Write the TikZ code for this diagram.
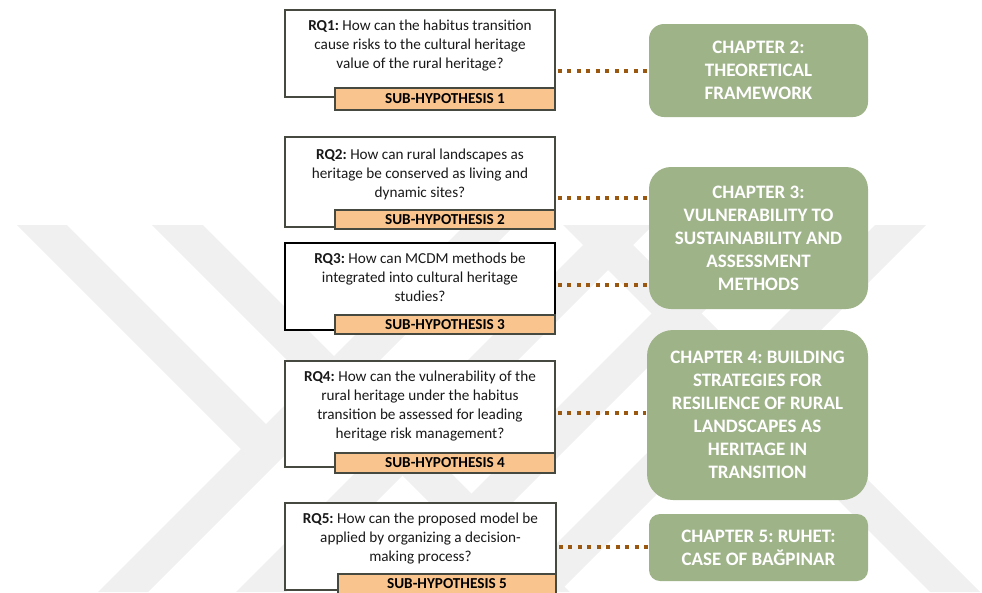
\documentclass[tikz,border=0pt]{standalone}
\usepackage{fontspec}
\setmainfont{Carlito}
\frenchspacing
\definecolor{wm}{RGB}{240,240,240}
\definecolor{rqgray}{RGB}{69,73,63}
\definecolor{shfill}{RGB}{249,196,142}
\definecolor{chgreen}{RGB}{159,179,137}
\definecolor{dotbrown}{RGB}{154,87,16}
\begin{document}
\begin{tikzpicture}[x=1pt,y=-1pt,
  rqbox/.style={draw=rqgray, line width=1.8pt, fill=white, inner sep=0pt, minimum width=270pt},
  shbox/.style={draw=rqgray, line width=1.8pt, fill=shfill, inner sep=0pt, minimum width=220pt,
    font=\fontsize{15.2}{17}\selectfont\bfseries},
  rqtext/.style={align=center, inner sep=0pt, text=black!90, font=\fontsize{15.2}{19}\selectfont},
  chbox/.style={fill=chgreen, inner sep=0pt, minimum width=219pt, text=white, align=center,
    font=\fontsize{19}{23}\selectfont\bfseries},
  dotline/.style={draw=dotbrown, line width=4pt, dash pattern=on 4pt off 5.5pt, shorten <=2pt, shorten >=1pt}
]
\useasboundingbox (0,0) rectangle (982,592);
\clip (0,0) rectangle (982,592);

% faint background emblem made of diagonal stripes
\begin{scope}[fill=wm]
  \fill (17,225) -- (67,225) -- (291,449) -- (241,449) -- cycle;
  \fill (465,225) -- (515,225) -- (148,592) -- (98,592) -- cycle;
  \fill (152,225) -- (203,225) -- (570,592) -- (519,592) -- cycle;
  \fill (603,225) -- (653,225) -- (286,592) -- (236,592) -- cycle;
  \fill (740,225) -- (790,225) -- (423,592) -- (373,592) -- cycle;
  \fill (875,225) -- (926,225) -- (559,592) -- (508,592) -- cycle;
  \fill (563,225) -- (613,225) -- (980,592) -- (930,592) -- cycle;
\end{scope}

% research questions with their sub-hypotheses
\node[rqbox, minimum height=87pt] (rq1) at (420,53.5) {};
\node[shbox, minimum height=22pt] (sh1) at (445,99) {SUB-HYPOTHESIS 1};
\node[rqtext] (rq1t) at (420,45.5) {\textbf{RQ1:} How can the habitus transition\\cause risks to the cultural heritage\\value of the rural heritage?};

\node[rqbox, minimum height=90pt] (rq2) at (420,182) {};
\node[shbox, minimum height=19pt] (sh2) at (445,219.5) {SUB-HYPOTHESIS 2};
\node[rqtext] (rq2t) at (420,174.5) {\textbf{RQ2:} How can rural landscapes as\\heritage be conserved as living and\\dynamic sites?};

\node[rqbox, draw=black, minimum height=87pt] (rq3) at (420,286.5) {};
\node[shbox, minimum height=19pt] (sh3) at (445,324.5) {SUB-HYPOTHESIS 3};
\node[rqtext] (rq3t) at (420,277.5) {\textbf{RQ3:} How can MCDM methods be\\integrated into cultural heritage\\studies?};

\node[rqbox, minimum height=106pt] (rq4) at (420,414) {};
\node[shbox, minimum height=20pt] (sh4) at (445,463) {SUB-HYPOTHESIS 4};
\node[rqtext] (rq4t) at (420,406) {\textbf{RQ4:} How can the vulnerability of the\\rural heritage under the habitus\\transition be assessed for leading\\heritage risk management?};

\node[rqbox, minimum width=271pt, minimum height=87pt] (rq5) at (420.5,546.5) {};
\node[shbox, minimum width=218pt, minimum height=26pt] (sh5) at (447,587) {};
\node[font=\fontsize{15.2}{17}\selectfont\bfseries, inner sep=0pt] (sh5t) at (447,583.5) {SUB-HYPOTHESIS 5};
\node[rqtext] (rq5t) at (420.5,538.5) {\textbf{RQ5:} How can the proposed model be\\applied by organizing a decision-\\making process?};

% chapters
\node[chbox, minimum height=93pt, rounded corners=15pt] (ch2) at (758.5,70.5) {CHAPTER 2:\\THEORETICAL\\FRAMEWORK};
\node[chbox, minimum height=142pt, rounded corners=22pt] (ch3) at (758.5,238) {CHAPTER 3:\\VULNERABILITY TO\\SUSTAINABILITY AND\\ASSESSMENT\\METHODS};
\node[chbox, minimum width=221pt, minimum height=170pt, rounded corners=26pt] (ch4) at (757.5,415) {CHAPTER 4: BUILDING\\STRATEGIES FOR\\RESILIENCE OF RURAL\\LANDSCAPES AS\\HERITAGE IN\\TRANSITION};
\node[chbox, minimum height=67pt, rounded corners=11pt] (ch5) at (758.5,547.5) {CHAPTER 5: RUHET:\\CASE OF BAĞPINAR};

% links
\coordinate (j2) at (600,198);
\coordinate (j3) at (600,285);
\coordinate (j4) at (600,413);
\coordinate (j5) at (600,547);
\draw[dotline] (rq1.east |- ch2.west) -- (ch2.west);
\draw[dotline] (rq2.east |- j2) -- (ch3.west |- j2);
\draw[dotline] (rq3.east |- j3) -- (ch3.west |- j3);
\draw[dotline] (rq4.east |- j4) -- (ch4.west |- j4);
\draw[dotline] (rq5.east |- j5) -- (ch5.west |- j5);
\end{tikzpicture}
\end{document}
